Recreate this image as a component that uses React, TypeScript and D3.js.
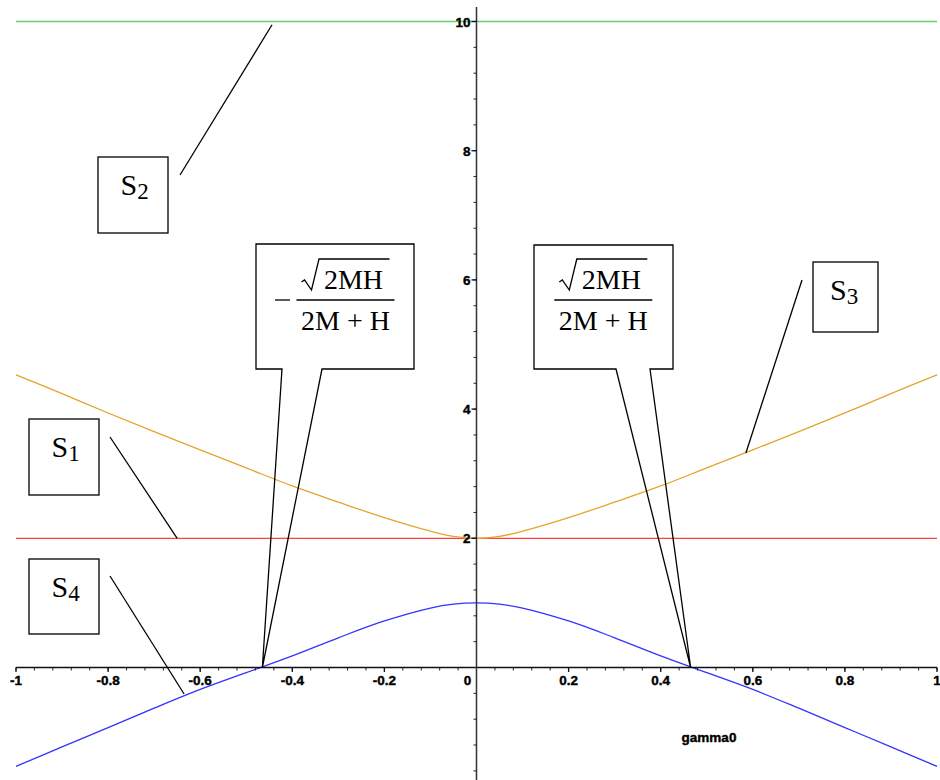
import * as d3 from "d3";

// gamma0 sample points along the horizontal axis
const gammaGrid = [-1, -0.9, -0.8, -0.7, -0.6, -0.5, -0.4, -0.3, -0.2, -0.1, -0.05, 0, 0.05, 0.1, 0.2, 0.3, 0.4, 0.5, 0.6, 0.7, 0.8, 0.9, 1];
// S3 (gold curve) and S4 (blue curve)
const s3Values = [4.53, 4.24, 3.94, 3.65, 3.37, 3.09, 2.81, 2.56, 2.32, 2.11, 2.03, 2.0, 2.03, 2.11, 2.32, 2.56, 2.81, 3.09, 3.37, 3.65, 3.94, 4.24, 4.53];
const s4Values = [-1.53, -1.23, -0.93, -0.63, -0.34, -0.08, 0.18, 0.46, 0.72, 0.92, 0.98, 1.0, 0.98, 0.92, 0.72, 0.46, 0.18, -0.08, -0.34, -0.63, -0.93, -1.23, -1.53];
// constant levels S1 and S2
const s1Level = 2;
const s2Level = 10;
// roots marked by the callouts: ±sqrt(2MH)/(2M+H)
const rootValue = 0.465;

const xMajor = [-1, -0.8, -0.6, -0.4, -0.2, 0.2, 0.4, 0.6, 0.8, 1];
const xMajorLabels = ["-1", "-0.8", "-0.6", "-0.4", "-0.2", "0.2", "0.4", "0.6", "0.8", "1"];
const yMajor = [2, 4, 6, 8, 10];
const yMajorLabels = ["2", "4", "6", "8", "10"];

const W = 940;
const H = 780;
const tickFont = "'Liberation Sans', Arial, sans-serif";
const mathFont = "'Liberation Serif', 'Times New Roman', serif";

const tickText = {
  fontFamily: tickFont,
  fontWeight: "bold" as const,
  fontSize: 13.5,
  fill: "#000",
  stroke: "#000",
  strokeWidth: 0.4,
};

function Fraction({ cx, negative }: { cx: number; negative?: boolean }) {
  return (
    <g fill="#000" fontFamily={mathFont} fontSize={28}>
      {negative && <line x1={cx - 70.5} x2={cx - 55.5} y1={300} y2={300} stroke="#000" strokeWidth={1.3} />}
      <path
        d={`M${cx - 44},282 L${cx - 41},280 L${cx - 34},290 L${cx - 26.5},259 H${cx + 44}`}
        fill="none"
        stroke="#000"
        strokeWidth={1.3}
      />
      <text x={cx + 8} y={289} textAnchor="middle">2MH</text>
      <line x1={cx - 49} x2={cx + 49} y1={300} y2={300} stroke="#000" strokeWidth={1.3} />
      <text x={cx} y={330} textAnchor="middle">2M + H</text>
    </g>
  );
}

function SLabel({ x0, y0, w, h, sub }: { x0: number; y0: number; w: number; h: number; sub: string }) {
  return (
    <g>
      <rect x={x0} y={y0} width={w} height={h} fill="none" stroke="#000" strokeWidth={1.3} />
      <text x={x0 + (w === 70 ? 22.5 : 17)} y={y0 + 38} fontFamily={mathFont} fontSize={30} fill="#000">
        S
        <tspan fontSize={23} dy={4}>{sub}</tspan>
      </text>
    </g>
  );
}

export default function App() {
  const x = d3.scaleLinear().domain([-1, 1]).range([16, 937]);
  const y = d3.scaleLinear().domain([0, 10]).range([667.5, 21.5]);

  const pts = (vals: number[]) => gammaGrid.map((g, i) => [g, vals[i]] as [number, number]);
  const curve = d3
    .line<[number, number]>()
    .x((d) => x(d[0]))
    .y((d) => y(d[1]))
    .curve(d3.curveCatmullRom.alpha(0.5));

  const flat = (v: number) => gammaGrid.map((g) => [g, v] as [number, number]);

  const xMinor = d3.range(-1, 1.0001, 0.04);
  const yMinor = d3.range(-1.6, 10.0001, 0.4);
  const x0 = x(0);
  const y0 = y(0);

  const callout = (bx0: number, by0: number, bx1: number, by1: number, n0: number, n1: number, tx: number, ty: number) =>
    `M${bx0},${by0} H${bx1} V${by1} H${n1} L${tx},${ty} L${n0},${by1} H${bx0} Z`;

  return (
    <svg
      width={W}
      height={H}
      viewBox={`0 0 ${W} ${H}`}
      style={{ position: "absolute", left: 0, top: 0, background: "#fff" }}
    >
      {/* curves */}
      <path d={curve(flat(s2Level)) ?? ""} fill="none" stroke="#66d066" strokeWidth={1.3} />
      <path d={curve(flat(s1Level)) ?? ""} fill="none" stroke="#ff4040" strokeWidth={1.3} />
      <path d={curve(pts(s3Values)) ?? ""} fill="none" stroke="#e3a52c" strokeWidth={1.3} />
      <path d={curve(pts(s4Values)) ?? ""} fill="none" stroke="#3333ff" strokeWidth={1.3} />

      {/* x axis */}
      <g>
        <line x1={x(-1)} x2={x(1)} y1={y0} y2={y0} stroke="#111" strokeWidth={1.5} />
        {xMinor.map((t, i) => (
          <line key={i} x1={x(t)} x2={x(t)} y1={y0} y2={y0 + 3} stroke="#222" strokeWidth={1} />
        ))}
        {xMajor.map((t) => (
          <line key={t} x1={x(t)} x2={x(t)} y1={y0} y2={y0 + 4.5} stroke="#111" strokeWidth={1.3} />
        ))}
        {xMajor.map((t, i) => (
          <text key={t} x={x(t)} y={685} textAnchor="middle" {...tickText}>
            {xMajorLabels[i]}
          </text>
        ))}
        <text x={x0 - 9} y={685} textAnchor="middle" {...tickText}>
          0
        </text>
        <text x={709} y={742} textAnchor="middle" {...tickText}>
          gamma0
        </text>
      </g>

      {/* y axis */}
      <g>
        <line x1={x0} x2={x0} y1={7} y2={H} stroke="#333" strokeWidth={1.5} />
        {yMinor.map((t, i) => (
          <line key={i} x1={x0 - 3} x2={x0} y1={y(t)} y2={y(t)} stroke="#222" strokeWidth={1} />
        ))}
        {yMajor.map((t) => (
          <line key={t} x1={x0 - 5} x2={x0} y1={y(t)} y2={y(t)} stroke="#111" strokeWidth={1.3} />
        ))}
        {yMajor.map((t, i) => (
          <text key={t} x={x0 - 6} y={y(t) + 5} textAnchor="end" {...tickText}>
            {yMajorLabels[i]}
          </text>
        ))}
      </g>

      {/* annotations */}
      <g stroke="#000" strokeWidth={1.3} fill="none">
        <line x1={180} y1={175} x2={x(-0.444)} y2={y(9.95)} />
        <line x1={110} y1={437} x2={x(-0.65)} y2={y(s1Level)} />
        <line x1={110} y1={576} x2={x(-0.635)} y2={y(-0.41)} />
        <line x1={802} y1={280} x2={x(0.585)} y2={y(3.32)} />
        <path d={callout(256, 244, 414, 369, 282, 322, x(-rootValue), y(0))} />
        <path d={callout(534, 245, 673, 369, 616, 650, x(rootValue), y(0))} />
      </g>
      <SLabel x0={98} y0={157} w={70} h={76} sub="2" />
      <SLabel x0={29} y0={419} w={70} h={76} sub="1" />
      <SLabel x0={29} y0={559} w={70} h={75} sub="4" />
      <SLabel x0={813} y0={262} w={65} h={70} sub="3" />
      <Fraction cx={345.5} negative />
      <Fraction cx={603.3} />
    </svg>
  );
}
